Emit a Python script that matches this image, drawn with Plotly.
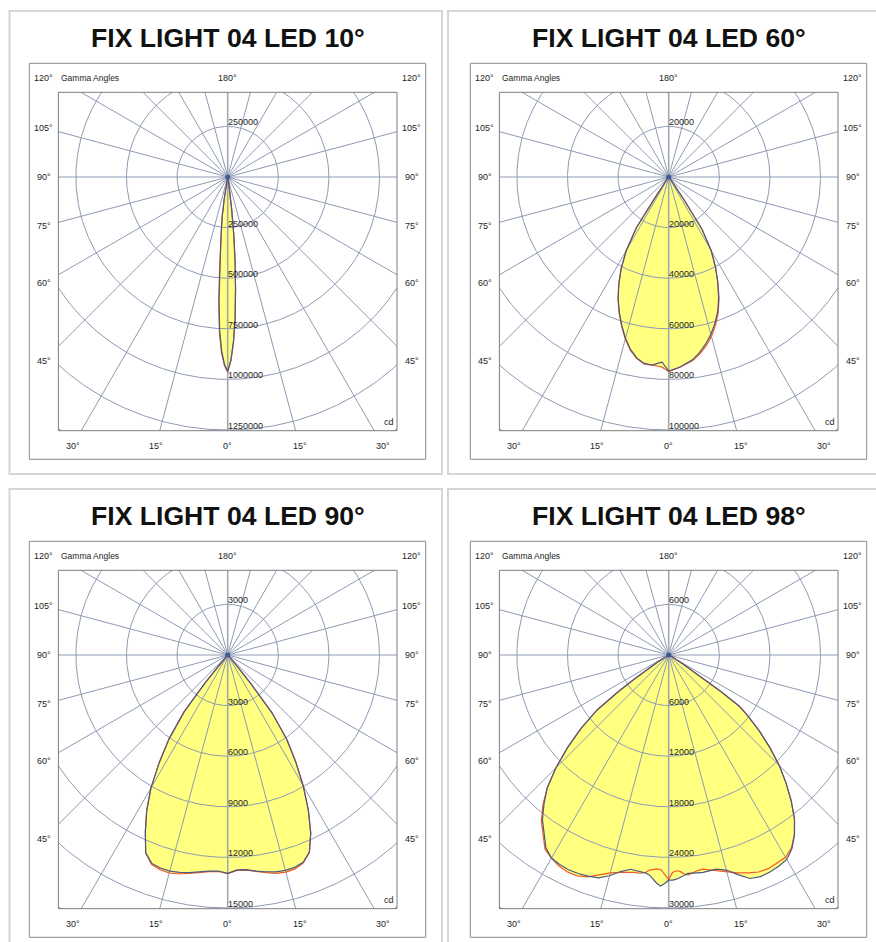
import numpy as np
import plotly.graph_objects as go

W, H = 876, 942

# ---------------- data ----------------
titles = ["FIX LIGHT 04 LED 10°", "FIX LIGHT 04 LED 60°",
          "FIX LIGHT 04 LED 90°", "FIX LIGHT 04 LED 98°"]
ring_step = [250000, 20000, 3000, 6000]          # cd per grid ring
ring_index = [1, 2, 3, 4, 5]                     # labelled rings
side_tick_angles = [45, 60, 75, 90, 105, 120]
bottom_tick_angles = [-30, -15, 0, 15, 30]
top_tick_label = "180°"
unit_label = "cd"
axis_caption = "Gamma Angles"

# 10° beam (cd)
gamma_10 = [0, 1, 2, 3, 4, 5, 6, 7, 8, 9, 10, 11, 12, 15, 20, 30, 45, 60, 75, 90]
c0_10 = [960000, 905000, 815000, 700000, 555000, 420000, 290000, 160000, 80000, 35000,
         15000, 7000, 4000, 2000, 1000, 500, 300, 200, 100, 0]
c180_10 = [960000, 925000, 860000, 760000, 615000, 455000, 331000, 255000, 195000, 110000,
           35000, 12000, 5000, 3000, 1000, 500, 300, 200, 100, 0]
c90_10 = [962000, 908000, 818000, 702000, 556000, 421000, 291000, 161000, 80000, 35000,
          15000, 7000, 4000, 2000, 1000, 500, 300, 200, 100, 0]
c270_10 = [965000, 932000, 870000, 774000, 630000, 463000, 333000, 256000, 195000, 110000,
           35000, 12000, 5000, 3000, 1000, 500, 300, 200, 100, 0]

# 60° beam (cd)
gamma_60 = [0, 1, 2, 3, 4, 5, 7.5, 10, 12.5, 15, 17.5, 20, 22.5, 25, 27.5, 30, 32.5, 34,
            35, 37.5, 40, 45, 50, 60, 70, 80, 90]
c0_60 = [76700, 76300, 75900, 75400, 74900, 74400, 72800, 70400, 67600, 64400, 60700, 56600,
         51600, 45800, 40000, 33600, 24500, 10500, 5000, 1500, 600, 300, 200, 100, 50, 20, 0]
c180_60 = [76700, 75000, 73200, 73600, 74200, 74600, 74300, 72600, 69800, 66000, 61600, 57000,
           52200, 46600, 40600, 33500, 24000, 10000, 5000, 1500, 600, 300, 200, 100, 50, 20, 0]
c90_60 = [76800, 76400, 76000, 75500, 75000, 74600, 73200, 71000, 68400, 65300, 61500, 57200,
          52000, 46000, 40100, 33600, 24500, 10500, 5000, 1500, 600, 300, 200, 100, 50, 20, 0]
c270_60 = [76900, 76000, 75200, 74900, 74800, 74800, 74500, 72900, 70100, 66300, 61900, 57300,
           52400, 46800, 40700, 33500, 24000, 10000, 5000, 1500, 600, 300, 200, 100, 50, 20, 0]

# 90° beam (cd)
gamma_90 = [0, 2.5, 5, 7.5, 10, 12.5, 15, 17.5, 20, 22.5, 25, 27.5, 30, 32.5, 35, 37.5, 39,
            40, 42.5, 45, 50, 60, 70, 80, 90]
c0_90 = [12940, 12750, 12770, 12920, 13050, 13170, 13220, 13200, 13080, 12650, 11650, 10350,
         8950, 7500, 6100, 4300, 2200, 900, 300, 150, 80, 40, 20, 10, 0]
c180_90 = [12940, 12820, 12860, 12970, 13100, 13200, 13270, 13240, 13150, 12700, 11550, 10400,
           9100, 7550, 6050, 4250, 2200, 900, 300, 150, 80, 40, 20, 10, 0]
c90_90 = [12960, 12780, 12800, 12950, 13100, 13260, 13330, 13300, 13120, 12660, 11650, 10350,
          8950, 7500, 6100, 4300, 2200, 900, 300, 150, 80, 40, 20, 10, 0]
c270_90 = [12960, 12850, 12890, 13010, 13160, 13300, 13380, 13340, 13200, 12720, 11560, 10400,
           9100, 7550, 6050, 4250, 2200, 900, 300, 150, 80, 40, 20, 10, 0]

# 98° beam (cd)
gamma_98 = [0, 1, 2, 3, 4, 5, 6, 7.5, 9, 10, 12.5, 15, 17.5, 20, 22.5, 25, 27.5, 30, 32.5,
            35, 37.5, 40, 42.5, 45, 47.5, 50, 52.5, 54, 55, 57.5, 60, 65, 70, 80, 90]
c0_98 = [26700, 26700, 26600, 26400, 26200, 26000, 26000, 26050, 26100, 26100, 26000, 26400,
         27300, 28200, 28450, 28400, 28250, 28000, 27200, 26000, 24500, 22600, 20600, 18550,
         16300, 14050, 11800, 10400, 7500, 2000, 700, 300, 150, 50, 0]
c180_98 = [26700, 27100, 27400, 27100, 26600, 26200, 26000, 25900, 25800, 25800, 26300, 27100,
           27700, 27900, 28050, 28100, 28000, 27800, 27100, 25800, 24600, 23000, 21300, 18900,
           16300, 13600, 10700, 7500, 5000, 1500, 600, 300, 150, 50, 0]
c90_98 = [26600, 25800, 25600, 25700, 26000, 26200, 26000, 25800, 25700, 25800, 26200, 26600,
          27100, 27500, 27850, 27950, 27800, 27700, 27100, 26000, 24500, 22600, 20600, 18550,
          16300, 14050, 11800, 10400, 7500, 2000, 700, 300, 150, 50, 0]
c270_98 = [26600, 26100, 25500, 25400, 25500, 25600, 25900, 26100, 26100, 26150, 26400, 26750,
           27300, 28000, 28350, 28400, 28200, 27800, 27300, 26000, 24800, 23200, 21300, 18900,
           16300, 13600, 10700, 7500, 5000, 1500, 600, 300, 150, 50, 0]

panels = [
    dict(gamma=gamma_10, c0=c0_10, c180=c180_10, c90=c90_10, c270=c270_10),
    dict(gamma=gamma_60, c0=c0_60, c180=c180_60, c90=c90_60, c270=c270_60),
    dict(gamma=gamma_90, c0=c0_90, c180=c180_90, c90=c90_90, c270=c270_90),
    dict(gamma=gamma_98, c0=c0_98, c180=c180_98, c90=c90_98, c270=c270_98),
]

# ---------------- layout geometry (pixels) ----------------
CX0, CY0 = 227.7, 177.0          # pole of panel 1
OFF_X = [0, 441, 0, 441]
OFF_Y = [0, 0, 478, 478]
PPS = 50.6                        # pixels per ring step
BOX_SIDE, BOX_TOP, BOX_BOT = 169.3, 84.7, 253.7
OUT_L, OUT_R, OUT_T, OUT_B = 198.4, 198.0, 113.7, 282.3
LAB_SIDE, LAB_TOP, LAB_BOT = 183.9, 98.7, 268.7
FRAME_X = [9.5, 448, 9.5, 448]
FRAME_Y = [11, 11, 489, 489]
FRAME_W, FRAME_H = 432.5, 463

FONT = "Liberation Sans, Arial, sans-serif"
GRID = "#8e9ab3"
BLUE = "#4b5a82"
RED = "#ef5a28"
YELLOW = "#ffff80"
TXT = "#1e1e1e"


def outline(gamma, right, left):
    g = np.radians(np.asarray(gamma, float))
    r = np.asarray(right, float)
    l = np.asarray(left, float)
    x = np.concatenate([(r * np.sin(g))[::-1], -l * np.sin(g)])
    y = np.concatenate([(-r * np.cos(g))[::-1], -l * np.cos(g)])
    return x, y


fig = go.Figure()
annotations = []
shapes = []

for i, p in enumerate(panels):
    s = ring_step[i]
    xa = "x" if i == 0 else f"x{i + 1}"
    ya = "y" if i == 0 else f"y{i + 1}"
    cx = CX0 + OFF_X[i]
    cy = CY0 + OFF_Y[i]

    def paper(dx, dy, cx=cx, cy=cy):
        return (cx + dx) / W, 1 - (cy + dy) / H

    # axes
    xkey = "xaxis" if i == 0 else f"xaxis{i + 1}"
    ykey = "yaxis" if i == 0 else f"yaxis{i + 1}"
    fig.update_layout({
        xkey: dict(domain=[(cx - BOX_SIDE) / W, (cx + BOX_SIDE) / W],
                   range=[-BOX_SIDE / PPS * s, BOX_SIDE / PPS * s],
                   visible=False, fixedrange=True),
        ykey: dict(domain=[1 - (cy + BOX_BOT) / H, 1 - (cy - BOX_TOP) / H],
                   range=[-BOX_BOT / PPS * s, BOX_TOP / PPS * s],
                   visible=False, fixedrange=True),
    })

    # fills (union of both planes)
    for right, left in ((p["c90"], p["c270"]), (p["c0"], p["c180"])):
        x, y = outline(p["gamma"], right, left)
        fig.add_trace(go.Scatter(x=x, y=y, mode="lines", fill="toself", fillcolor=YELLOW,
                                 line=dict(width=0, color=YELLOW), xaxis=xa, yaxis=ya,
                                 hoverinfo="skip"))

    # grid rings
    t = np.linspace(0, 2 * np.pi, 721)
    rx, ry = [], []
    for k in range(1, 8):
        rx += list(k * s * np.cos(t)) + [None]
        ry += list(k * s * np.sin(t)) + [None]
    fig.add_trace(go.Scatter(x=rx, y=ry, mode="lines", line=dict(color=GRID, width=1),
                             xaxis=xa, yaxis=ya, hoverinfo="skip"))
    # spokes every 15°
    sx, sy = [], []
    L = 8 * s
    for a in range(15, 180, 15):
        ar = np.radians(a)
        sx += [L * np.sin(ar), -L * np.sin(ar), None]
        sy += [-L * np.cos(ar), L * np.cos(ar), None]
    fig.add_trace(go.Scatter(x=sx, y=sy, mode="lines", line=dict(color=GRID, width=1),
                             xaxis=xa, yaxis=ya, hoverinfo="skip"))
    fig.add_trace(go.Scatter(x=[0, 0], y=[-L, L], mode="lines",
                             line=dict(color="#a3a7b0", width=1.6),
                             xaxis=xa, yaxis=ya, hoverinfo="skip"))

    # curves
    for right, left, col in ((p["c90"], p["c270"], RED), (p["c0"], p["c180"], BLUE)):
        x, y = outline(p["gamma"], right, left)
        fig.add_trace(go.Scatter(x=x, y=y, mode="lines", line=dict(color=col, width=1.2),
                                 xaxis=xa, yaxis=ya, hoverinfo="skip"))
    fig.add_trace(go.Scatter(x=[0], y=[0], mode="markers",
                             marker=dict(size=5, color="#3d5a98"),
                             xaxis=xa, yaxis=ya, hoverinfo="skip"))

    # ring value labels
    for k in ring_index:
        annotations.append(dict(x=0, y=-k * s, xref=xa, yref=ya, text=str(k * s),
                                showarrow=False, xanchor="left", yanchor="bottom",
                                xshift=-2, yshift=-3, font=dict(family=FONT, size=9, color=TXT)))
    annotations.append(dict(x=0, y=ring_index[0] * s, xref=xa, yref=ya, text=str(ring_index[0] * s),
                            showarrow=False, xanchor="left", yanchor="bottom",
                            xshift=-2, yshift=-3, font=dict(family=FONT, size=9, color=TXT)))

    # angle labels around the box
    lf = dict(family=FONT, size=9, color=TXT)
    for a in side_tick_angles:
        dy = LAB_SIDE / np.tan(np.radians(a))
        dy = max(dy, -LAB_TOP)
        for sign in (-1, 1):
            px, py = paper(sign * LAB_SIDE, dy)
            annotations.append(dict(x=px, y=py, xref="paper", yref="paper", text=f"{a}°",
                                    showarrow=False, xanchor="center", yanchor="middle", font=lf))
    for a in bottom_tick_angles:
        px, py = paper(LAB_BOT * np.tan(np.radians(a)), LAB_BOT)
        annotations.append(dict(x=px, y=py, xref="paper", yref="paper", text=f"{abs(a)}°",
                                showarrow=False, xanchor="center", yanchor="middle", font=lf))
    px, py = paper(0, -LAB_TOP)
    annotations.append(dict(x=px, y=py, xref="paper", yref="paper", text=top_tick_label,
                            showarrow=False, xanchor="center", yanchor="middle", font=lf))
    px, py = paper(-BOX_SIDE + 0.5, -LAB_TOP)
    annotations.append(dict(x=px, y=py, xref="paper", yref="paper", text=axis_caption,
                            showarrow=False, xanchor="left", yanchor="middle",
                            font=dict(family=FONT, size=8.5, color=TXT)))
    px, py = paper(161.3, 245.3)
    annotations.append(dict(x=px, y=py, xref="paper", yref="paper", text=unit_label,
                            showarrow=False, xanchor="center", yanchor="middle", font=lf))
    # title
    px, py = paper(0, 37.5 - CY0)
    annotations.append(dict(x=px, y=py, xref="paper", yref="paper", text=f"<b>{titles[i]}</b>",
                            showarrow=False, xanchor="center", yanchor="middle",
                            font=dict(family=FONT, size=26.6, color="#111111")))

    # boxes
    shapes.append(dict(type="rect", xref=f"{xa} domain", yref=f"{ya} domain",
                       x0=0, x1=1, y0=0, y1=1, line=dict(color="#7d7d7d", width=1),
                       layer="above"))
    x0, y0 = paper(-OUT_L, OUT_B)
    x1, y1 = paper(OUT_R, -OUT_T)
    shapes.append(dict(type="rect", xref="paper", yref="paper", x0=x0, x1=x1, y0=y0, y1=y1,
                       line=dict(color="#8a8a8a", width=1)))
    shapes.append(dict(type="rect", xref="paper", yref="paper",
                       x0=FRAME_X[i] / W, x1=(FRAME_X[i] + FRAME_W) / W,
                       y0=1 - (FRAME_Y[i] + FRAME_H) / H, y1=1 - FRAME_Y[i] / H,
                       line=dict(color="#d6d6d6", width=2)))

fig.update_layout(width=W, height=H, margin=dict(l=0, r=0, t=0, b=0),
                  paper_bgcolor="white", plot_bgcolor="white", showlegend=False,
                  annotations=annotations, shapes=shapes)

fig.write_html("out.html", include_plotlyjs=True, config={"displayModeBar": False},
               post_script="document.body.style.margin='0px';")
